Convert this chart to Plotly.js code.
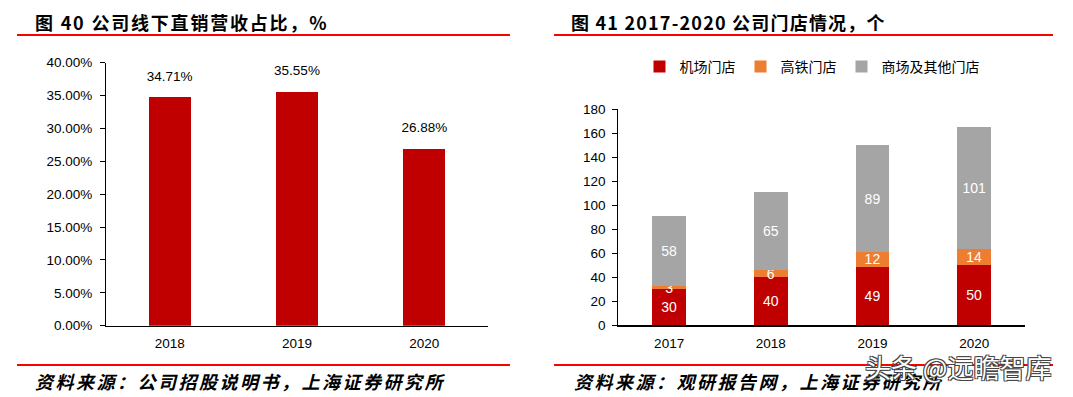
<!DOCTYPE html>
<html><head><meta charset="utf-8">
<script src="https://cdn.plot.ly/plotly-3.0.1.min.js"></script>
<style>html,body{margin:0;padding:0;background:#fff}</style>
</head><body><div id="chart" style="width:1073px;height:397px"></div>
<script>
// ---- data ----
const leftYears = ['2018', '2019', '2020'];
const leftShare = [0.3471, 0.3555, 0.2688];

const rightYears = ['2017', '2018', '2019', '2020'];
const airportStores = [30, 40, 49, 50];
const railStores = [3, 6, 12, 14];
const mallStores = [58, 65, 89, 101];
const seriesNames = ['机场门店', '高铁门店', '商场及其他门店'];

const leftTitle = '图 40 公司线下直销营收占比，%';
const rightTitle = '图 41 2017-2020 公司门店情况，个';
const leftSource = '资料来源：公司招股说明书，上海证券研究所';
const rightSource = '资料来源：观研报告网，上海证券研究所';
const watermark = '头条 @远瞻智库';

// ---- layout helpers ----
const W = 1073, H = 397;
const px = x => x / W;
const py = y => 1 - y / H;
const FONT = 'Liberation Sans, Arial, Noto Sans CJK SC, sans-serif';
const CJK = 'Noto Sans CJK SC, Liberation Sans, sans-serif';
const RED = '#C00000', ORANGE = '#ED7D31', GRAY = '#A5A5A5';

const insideLabel = {textposition: 'inside', insidetextanchor: 'middle', textangle: 0,
  constraintext: 'none', textfont: {family: FONT, size: 14, color: '#fff'}, hoverinfo: 'skip'};

const traces = [
  {type: 'bar', x: leftYears, y: leftShare, xaxis: 'x', yaxis: 'y',
   marker: {color: RED}, width: 0.33, showlegend: false, hoverinfo: 'skip'},
  // value labels above the left bars
  {type: 'scatter', mode: 'markers+text', x: leftYears, y: leftShare, xaxis: 'x', yaxis: 'y',
   marker: {size: 20, opacity: 0}, showlegend: false, hoverinfo: 'skip', cliponaxis: false,
   text: leftShare.map(v => (v * 100).toFixed(2) + '%'), textposition: 'top center',
   textfont: {family: FONT, size: 13.5, color: '#000'}},
  Object.assign({type: 'bar', name: seriesNames[0], x: rightYears, y: airportStores, xaxis: 'x2', yaxis: 'y2',
   marker: {color: RED}, width: 0.33, text: airportStores}, insideLabel),
  Object.assign({type: 'bar', name: seriesNames[1], x: rightYears, y: railStores, xaxis: 'x2', yaxis: 'y2',
   marker: {color: ORANGE}, width: 0.33, text: railStores}, insideLabel),
  Object.assign({type: 'bar', name: seriesNames[2], x: rightYears, y: mallStores, xaxis: 'x2', yaxis: 'y2',
   marker: {color: GRAY}, width: 0.33, text: mallStores}, insideLabel)
];

const axisCommon = {showgrid: false, zeroline: false, showline: true, linecolor: '#000',
  fixedrange: true, tickfont: {family: FONT, size: 13.5, color: '#000'}};

const layout = {
  width: W, height: H, margin: {l: 0, r: 0, t: 0, b: 0},
  paper_bgcolor: '#fff', plot_bgcolor: '#fff',
  barmode: 'stack', font: {family: FONT, color: '#000'},
  xaxis: Object.assign({}, axisCommon, {domain: [px(106), px(488)], anchor: 'y',
    type: 'category', range: [-0.5, 2.5], ticks: 'outside', ticklen: 5, tickcolor: 'rgba(0,0,0,0)', linewidth: 1.5}),
  yaxis: Object.assign({}, axisCommon, {domain: [py(325.7), py(62.7)], anchor: 'x',
    range: [0, 0.40], dtick: 0.05, tickformat: '.2%', ticks: 'outside', ticklen: 5, tickcolor: '#000',
    ticklabelstandoff: 5}),
  xaxis2: Object.assign({}, axisCommon, {domain: [px(618.3), px(1025)], anchor: 'y2',
    type: 'category', range: [-0.5, 3.5], ticks: 'outside', ticklen: 5, tickcolor: 'rgba(0,0,0,0)', linewidth: 1.5}),
  yaxis2: Object.assign({}, axisCommon, {domain: [py(325.3), py(109.3)], anchor: 'x2',
    range: [0, 180], dtick: 20, ticks: 'outside', ticklen: 5, tickcolor: '#000', ticklabelstandoff: 4}),
  showlegend: true,
  legend: {orientation: 'h', x: px(812), xanchor: 'center', y: py(67), yanchor: 'middle',
    font: {family: FONT, size: 14, color: '#000'}, itemwidth: 30, traceorder: 'normal'},
  shapes: [
    {type: 'line', xref: 'paper', yref: 'paper', x0: px(17), x1: px(510), y0: py(35), y1: py(35), line: {color: '#FF0000', width: 2}},
    {type: 'line', xref: 'paper', yref: 'paper', x0: px(554), x1: px(1053), y0: py(35), y1: py(35), line: {color: '#FF0000', width: 2}},
    {type: 'line', xref: 'paper', yref: 'paper', x0: px(17), x1: px(510), y0: py(365), y1: py(365), line: {color: '#FF0000', width: 2}},
    {type: 'line', xref: 'paper', yref: 'paper', x0: px(554), x1: px(1053), y0: py(365), y1: py(365), line: {color: '#FF0000', width: 2}}
  ],
  annotations: [
    {xref: 'paper', yref: 'paper', x: px(33), y: py(22), xanchor: 'left', yanchor: 'middle', showarrow: false,
     text: '<span style="letter-spacing:1.8px">' + leftTitle + '</span>', font: {family: CJK, size: 18, weight: 700, color: '#000'}},
    {xref: 'paper', yref: 'paper', x: px(569), y: py(22), xanchor: 'left', yanchor: 'middle', showarrow: false,
     text: '<span style="letter-spacing:1.2px">' + rightTitle + '</span>', font: {family: CJK, size: 18, weight: 700, color: '#000'}},
    {xref: 'paper', yref: 'paper', x: px(33), y: py(381), xanchor: 'left', yanchor: 'middle', showarrow: false,
     text: '<span style="letter-spacing:2.5px">' + leftSource + '</span>', font: {family: CJK, size: 18, weight: 700, style: 'italic', color: '#000'}},
    {xref: 'paper', yref: 'paper', x: px(572), y: py(381), xanchor: 'left', yanchor: 'middle', showarrow: false,
     text: '<span style="letter-spacing:2.5px">' + rightSource + '</span>', font: {family: CJK, size: 18, weight: 700, style: 'italic', color: '#000'}},
    {xref: 'paper', yref: 'paper', x: px(1053), y: py(366), xanchor: 'right', yanchor: 'middle', showarrow: false,
     text: watermark, font: {family: CJK, size: 26, color: '#fff',
       shadow: '1px 1px 0 #444, -1px -1px 0 #444, 1px -1px 0 #444, -1px 1px 0 #444'}}
  ]
};

Plotly.newPlot('chart', traces, layout, {displayModeBar: false, staticPlot: true});
</script></body></html>
